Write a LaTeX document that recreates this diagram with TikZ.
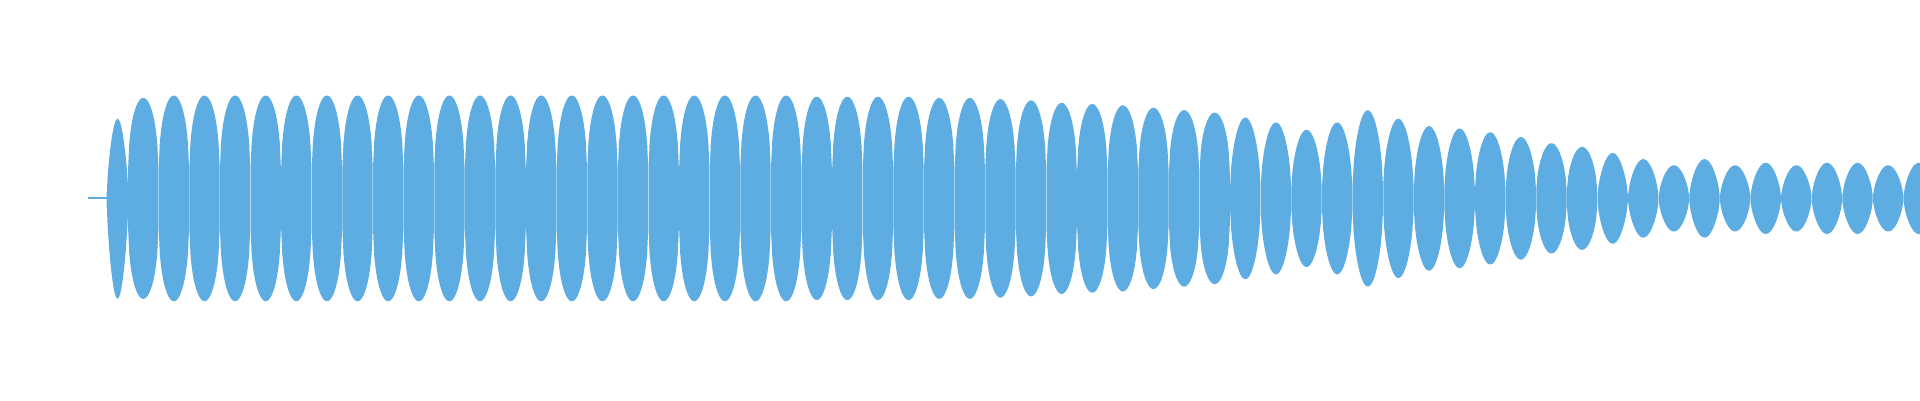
\documentclass[tikz,border=0pt]{standalone}
\definecolor{wavec}{HTML}{5DADE2}
\tikzset{wave/.style={fill=wavec}}
\begin{document}
\begin{tikzpicture}[x=0.012245cm,y=-0.012245cm]
\useasboundingbox (0,0) rectangle (1568,326.67);
\draw[wavec,line width=0.6pt] (72,162) -- (88,162);
\fill[wave] plot[domain=1:179,samples=20] ({87+18*\x/180},{162-65*pow(abs(sin(\x)),0.7)}) -- plot[domain=179:1,samples=20] ({87+18*\x/180},{162+82*pow(abs(sin(\x)),0.7)}) -- cycle;
\foreach \c/\t in {117/80,142/78,167/78,192/78,217/78,242/78,267/78,292/78,317/78,342/78,367/78,392/78,417/78,442/78,467/78,492/78,517/78,542/78,567/78,592/78,617/78,642/78,667/79,692/79,717/79,742/79,767/80,792/80,817/81,842/82,867/84,892/85,917/86,942/88,967/90,992/92,1017/96,1042/100,1067/106,1092/100,1117/90,1142/97,1167/103,1192/105,1217/108,1242/112,1267/117,1292/120,1317/125,1342/130,1367/135,1392/130,1417/135,1442/133,1467/135,1492/133,1517/133,1542/135,1567/133}{
\pgfmathsetmacro{\ex}{\c<1000 ? 0.3 : (\c<1300 ? 0.45 : 0.6)}
\fill[wave] plot[domain=1:179,samples=30] ({\c-12.5+25*\x/180},{162-(162-\t)*pow(abs(sin(\x)),\ex)}) -- plot[domain=179:1,samples=30] ({\c-12.5+25*\x/180},{162+(162-\t)*pow(abs(sin(\x)),\ex)}) -- cycle;
}
\end{tikzpicture}
\end{document}
